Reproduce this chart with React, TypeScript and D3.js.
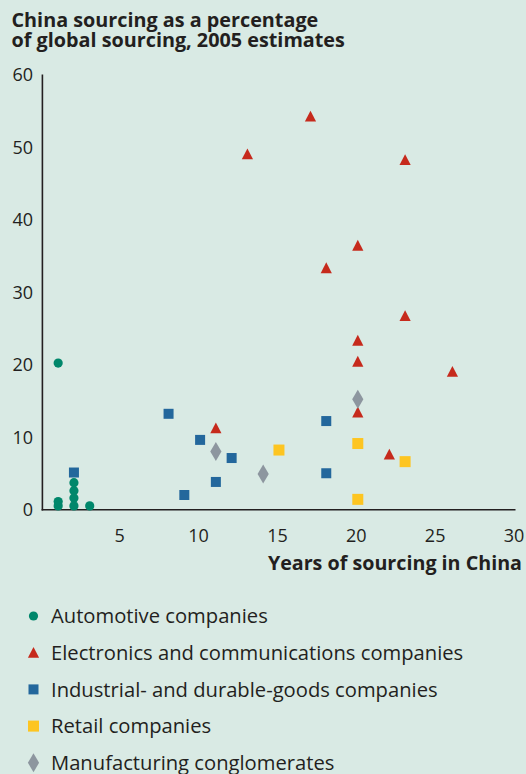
import React from "react";
import * as d3 from "d3";

const W = 526;
const H = 774;

const automotive: [number, number][] = [
  [1, 20.2], [1, 1.1], [1, 0.5], [2, 3.7], [2, 2.6], [2, 1.6], [2, 0.5], [3, 0.5],
];
const electronics: [number, number][] = [
  [17, 54.0], [13, 48.8], [23, 48.0], [20, 36.2], [18, 33.1], [23, 26.5],
  [20, 23.1], [20, 20.2], [26, 18.8], [20, 13.2], [11, 11.0], [22, 7.4],
];
const industrial: [number, number][] = [
  [8, 13.2], [10, 9.6], [12, 7.1], [11, 3.8], [9, 2.0], [18, 12.2], [18, 5.0], [2, 5.1],
];
const retail: [number, number][] = [
  [15, 8.2], [20, 9.1], [23, 6.6], [20, 1.4],
];
const conglomerates: [number, number][] = [
  [20, 15.2], [11, 8.0], [14, 4.9],
];

const xTicks = [5, 10, 15, 20, 25, 30];
const yTicks = [0, 10, 20, 30, 40, 50, 60];

const legendLabels = [
  "Automotive companies",
  "Electronics and communications companies",
  "Industrial- and durable-goods companies",
  "Retail companies",
  "Manufacturing conglomerates",
];

const COLORS = {
  bg: "#d9eae4",
  text: "#231f20",
  green: "#00876b",
  red: "#c62a1c",
  blue: "#23679c",
  yellow: "#fdc521",
  gray: "#8d969f",
};

const FONT = "'Open Sans', 'Noto Sans', sans-serif";

type Shape = "circle" | "triangle" | "square" | "bigsquare" | "diamond";

function Marker({ shape, x, y, color }: { shape: Shape; x: number; y: number; color: string }) {
  if (shape === "circle") return <circle cx={x} cy={y} r={4.6} fill={color} />;
  if (shape === "triangle")
    return <path d={`M${x},${y - 7.2}L${x + 5.6},${y + 3.6}L${x - 5.6},${y + 3.6}Z`} fill={color} />;
  if (shape === "square") return <rect x={x - 5} y={y - 5} width={10} height={10} fill={color} />;
  if (shape === "bigsquare") return <rect x={x - 5.5} y={y - 5.5} width={11} height={11} fill={color} />;
  return <path d={`M${x},${y - 9.5}L${x + 5.6},${y}L${x},${y + 9.5}L${x - 5.6},${y}Z`} fill={color} />;
}

export default function App() {
  const x = d3.scaleLinear().domain([0, 30]).range([42.4, 515.5]);
  const y = d3.scaleLinear().domain([0, 60]).range([509.5, 74.5]);

  const series: { data: [number, number][]; shape: Shape; color: string }[] = [
    { data: automotive, shape: "circle", color: COLORS.green },
    { data: electronics, shape: "triangle", color: COLORS.red },
    { data: industrial, shape: "square", color: COLORS.blue },
    { data: retail, shape: "bigsquare", color: COLORS.yellow },
    { data: conglomerates, shape: "diamond", color: COLORS.gray },
  ];

  return (
    <svg
      width={W}
      height={H}
      style={{ position: "absolute", left: 0, top: 0, display: "block", background: COLORS.bg }}
      fontFamily={FONT}
    >
      <rect x={0} y={0} width={W} height={H} fill={COLORS.bg} />
      <text x={11.5} y={26.8} fontSize={19.8} fontWeight={700} fill={COLORS.text}>
        China sourcing as a percentage
      </text>
      <text x={11.5} y={47} fontSize={19.8} fontWeight={700} fill={COLORS.text}>
        of global sourcing, 2005 estimates
      </text>

      {yTicks.map((t) => (
        <text key={t} x={33} y={y(t) + 6.5} fontSize={18} textAnchor="end" fill={COLORS.text}>
          {t}
        </text>
      ))}
      {xTicks.map((t) => (
        <text key={t} x={x(t) - 1.5} y={541.5} fontSize={18} textAnchor="middle" fill={COLORS.text}>
          {t}
        </text>
      ))}

      <line x1={42.4} x2={42.4} y1={y(60)} y2={510.5} stroke={COLORS.text} strokeWidth={1.6} />
      <line x1={41.6} x2={x(30)} y1={509.8} y2={509.8} stroke={COLORS.text} strokeWidth={1.6} />

      <text x={522} y={570} fontSize={19.7} fontWeight={700} textAnchor="end" fill={COLORS.text}>
        Years of sourcing in China
      </text>

      {series.map((s, si) => (
        <g key={si}>
          {s.data.map(([dx, dy], i) => (
            <Marker key={i} shape={s.shape} x={x(dx)} y={y(dy)} color={s.color} />
          ))}
        </g>
      ))}

      {legendLabels.map((label, i) => {
        const cy = 616 + i * 36.7;
        const s = series[i];
        return (
          <g key={label}>
            <Marker shape={s.shape} x={33.5} y={cy + (s.shape === "triangle" ? 1.5 : 0)} color={s.color} />
            <text x={51} y={cy + 7.2} fontSize={20.2} fill={COLORS.text}>
              {label}
            </text>
          </g>
        );
      })}
    </svg>
  );
}
